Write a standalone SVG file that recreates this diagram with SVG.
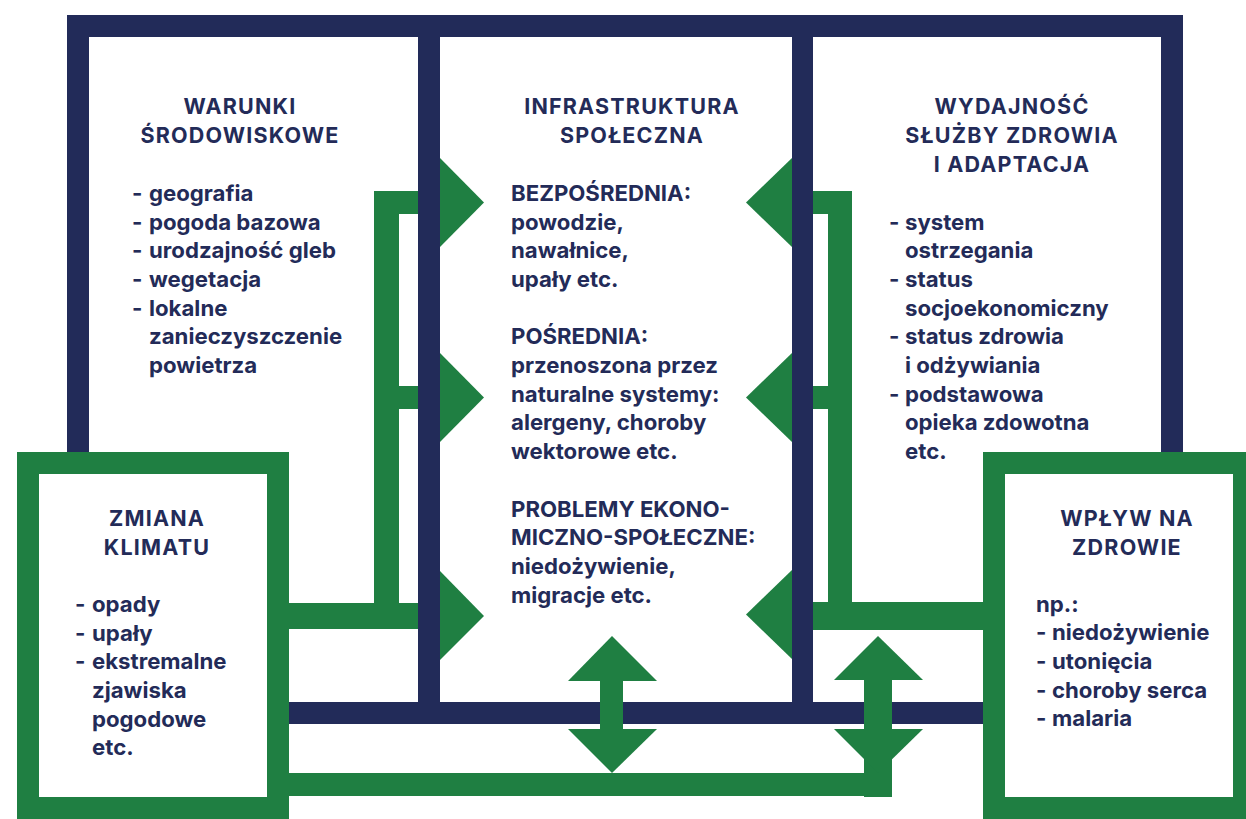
<svg xmlns="http://www.w3.org/2000/svg" width="1246" height="819" viewBox="0 0 1246 819">
  <style>
    .navy { fill: #222B59; }
    .green { fill: #1F7F42; }
    .box { fill: #FFFFFF; stroke: #1F7F42; stroke-width: 22; }
    text { font-family: Inter, "Open Sans", "Liberation Sans", sans-serif; font-weight: 700; fill: #232B58; font-size: 22.2px; }
    .head { text-anchor: middle; letter-spacing: 1.2px; font-size: 21.5px; }
  </style>

  <rect width="1246" height="819" fill="#FFFFFF"/>

  <!-- navy frame: outer border and the two column dividers -->
  <g id="frame" class="navy">
    <rect x="67" y="15" width="1116" height="22"/>
    <rect x="67" y="15" width="22" height="437"/>
    <rect x="1161" y="15" width="22" height="437"/>
    <rect x="418" y="15" width="22" height="709"/>
    <rect x="792" y="15" width="21" height="709"/>
    <rect x="289" y="702" width="694" height="22"/>
  </g>

  <!-- green connectors -->
  <g id="connectors" class="green">
    <!-- left feed: climate change into the infrastructure column -->
    <rect x="374" y="191" width="25" height="438"/>
    <rect x="374" y="191" width="44" height="23"/>
    <rect x="399" y="386" width="19" height="23"/>
    <rect x="289" y="603" width="129" height="26"/>
    <polygon points="440,158 484,202.5 440,247"/>
    <polygon points="440,353 484,397.5 440,442"/>
    <polygon points="440,571 484,616 440,660"/>

    <!-- right feed: health services into the infrastructure column -->
    <rect x="828" y="191" width="24" height="439"/>
    <rect x="813" y="191" width="39" height="23"/>
    <rect x="813" y="386" width="15" height="23"/>
    <rect x="813" y="602" width="170" height="28"/>
    <polygon points="792,158 746,202.5 792,247"/>
    <polygon points="792,353 746,397.5 792,442"/>
    <polygon points="792,570 746,614.5 792,659"/>

    <!-- bottom link between the two green boxes -->
    <rect x="289" y="773" width="589" height="23"/>

    <!-- double arrows crossing the bottom bar -->
    <rect x="600" y="680" width="23" height="50"/>
    <polygon points="568,681 612,636 657,681"/>
    <polygon points="568,729 612,773 657,729"/>

    <rect x="864" y="680" width="28" height="117"/>
    <polygon points="834,680 878,636 923,680"/>
    <polygon points="834,729 878,773 923,729"/>
  </g>

  <g id="warunki">
    <text class="head" x="240" y="114">WARUNKI</text>
    <text class="head" x="240" y="143">ŚRODOWISKOWE</text>
    <text><tspan x="132" y="201">-</tspan><tspan x="149">geografia</tspan></text>
    <text><tspan x="132" y="229.5">-</tspan><tspan x="149">pogoda bazowa</tspan></text>
    <text><tspan x="132" y="258">-</tspan><tspan x="149">urodzajność gleb</tspan></text>
    <text><tspan x="132" y="287">-</tspan><tspan x="149">wegetacja</tspan></text>
    <text><tspan x="132" y="315.5">-</tspan><tspan x="149">lokalne</tspan></text>
    <text x="149" y="344">zanieczyszczenie</text>
    <text x="149" y="373">powietrza</text>
  </g>

  <g id="infrastruktura">
    <text class="head" x="632" y="114">INFRASTRUKTURA</text>
    <text class="head" x="632" y="143">SPOŁECZNA</text>
    <text x="511" y="201">BEZPOŚREDNIA:</text>
    <text x="511" y="229.5">powodzie,</text>
    <text x="511" y="258">nawałnice,</text>
    <text x="511" y="287">upały etc.</text>
    <text x="511" y="344">POŚREDNIA:</text>
    <text x="511" y="373">przenoszona przez</text>
    <text x="511" y="401.5">naturalne systemy:</text>
    <text x="511" y="430">alergeny, choroby</text>
    <text x="511" y="459">wektorowe etc.</text>
    <text x="511" y="516.5">PROBLEMY EKONO-</text>
    <text x="511" y="545">MICZNO-SPOŁECZNE:</text>
    <text x="511" y="574">niedożywienie,</text>
    <text x="511" y="602.5">migracje etc.</text>
  </g>

  <g id="wydajnosc">
    <text class="head" x="1012" y="114">WYDAJNOŚĆ</text>
    <text class="head" x="1012" y="143">SŁUŻBY ZDROWIA</text>
    <text class="head" x="1012" y="171.5">I ADAPTACJA</text>
    <text><tspan x="889" y="229.5">-</tspan><tspan x="905">system</tspan></text>
    <text x="905" y="258">ostrzegania</text>
    <text><tspan x="889" y="287">-</tspan><tspan x="905">status</tspan></text>
    <text x="905" y="315.5">socjoekonomiczny</text>
    <text><tspan x="889" y="344">-</tspan><tspan x="905">status zdrowia</tspan></text>
    <text x="905" y="373">i odżywiania</text>
    <text><tspan x="889" y="401.5">-</tspan><tspan x="905">podstawowa</tspan></text>
    <text x="905" y="430">opieka zdowotna</text>
    <text x="905" y="459">etc.</text>
  </g>

  <g id="zmiana-klimatu">
    <rect class="box" x="28" y="463" width="250" height="345"/>
    <text class="head" x="157" y="526">ZMIANA</text>
    <text class="head" x="157" y="555">KLIMATU</text>
    <text><tspan x="75" y="612">-</tspan><tspan x="92">opady</tspan></text>
    <text><tspan x="75" y="640.5">-</tspan><tspan x="92">upały</tspan></text>
    <text><tspan x="75" y="669">-</tspan><tspan x="92">ekstremalne</tspan></text>
    <text x="92" y="698">zjawiska</text>
    <text x="92" y="726.5">pogodowe</text>
    <text x="92" y="755">etc.</text>
  </g>

  <g id="wplyw-na-zdrowie">
    <rect class="box" x="994" y="463" width="250" height="345"/>
    <text class="head" x="1127" y="526">WPŁYW NA</text>
    <text class="head" x="1127" y="555">ZDROWIE</text>
    <text x="1036" y="611.5">np.:</text>
    <text><tspan x="1036" y="640">-</tspan><tspan x="1052">niedożywienie</tspan></text>
    <text><tspan x="1036" y="669">-</tspan><tspan x="1052">utonięcia</tspan></text>
    <text><tspan x="1036" y="697.5">-</tspan><tspan x="1052">choroby serca</tspan></text>
    <text><tspan x="1036" y="726">-</tspan><tspan x="1052">malaria</tspan></text>
  </g>
</svg>
